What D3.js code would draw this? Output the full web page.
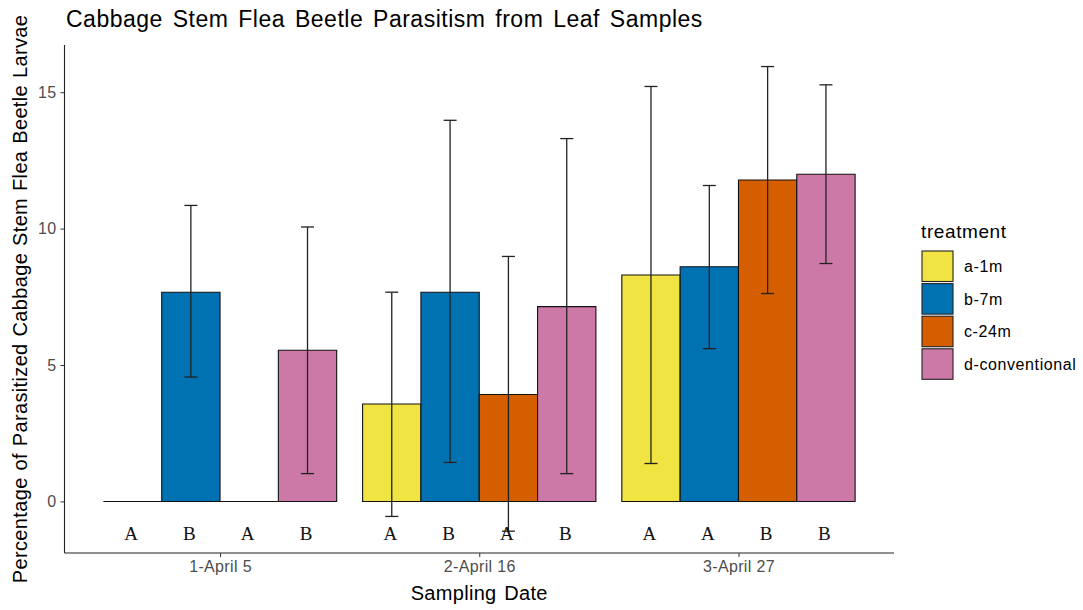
<!DOCTYPE html>
<html>
<head>
<meta charset="utf-8">
<script src="https://cdn.jsdelivr.net/npm/d3@7"></script>
<style>
html,body{margin:0;padding:0;background:#fff;}
svg{display:block;}
text{font-family:"Liberation Sans",Arial,sans-serif;}
</style>
</head>
<body>
<svg id="chart" width="1083" height="610"></svg>
<script>
const dates = ["1-April 5", "2-April 16", "3-April 27"];
const treatments = ["a-1m", "b-7m", "c-24m", "d-conventional"];
const colors = ["#F0E442", "#0072B2", "#D55E00", "#CC79A7"];
// mean per treatment, one value per date
const meanA = [0, 3.57, 8.30];
const meanB = [7.67, 7.67, 8.60];
const meanC = [0, 3.92, 11.78];
const meanD = [5.54, 7.14, 11.99];
const upperA = [null, 7.67, 15.21];
const upperB = [10.85, 13.97, 11.58];
const upperC = [null, 8.98, 15.94];
const upperD = [10.06, 13.30, 15.27];
const lowerA = [null, -0.55, 1.39];
const lowerB = [4.56, 1.43, 5.60];
const lowerC = [null, -1.09, 7.62];
const lowerD = [1.02, 1.02, 8.72];
const lettersA = ["A", "A", "A"];
const lettersB = ["B", "B", "A"];
const lettersC = ["A", "A", "B"];
const lettersD = ["B", "B", "B"];
const yTicks = [0, 5, 10, 15];

const means = [meanA, meanB, meanC, meanD];
const uppers = [upperA, upperB, upperC, upperD];
const lowers = [lowerA, lowerB, lowerC, lowerD];
const letters = [lettersA, lettersB, lettersC, lettersD];

const rows = [];
dates.forEach((d, di) => {
  treatments.forEach((t, ti) => {
    rows.push({date: d, trt: t, ti, mean: means[ti][di], up: uppers[ti][di], lo: lowers[ti][di], letter: letters[ti][di]});
  });
});

const svg = d3.select("#chart");
const L = 64.5, R = 894, T = 45, B = 553;

const x = d3.scalePoint().domain(dates).range([L, R]).padding(0.6);
const step = x.step();
const xs = d3.scaleBand().domain(treatments).range([-0.45 * step, 0.45 * step]).padding(0);
const y = d3.scaleLinear().domain([-1.89, 16.73]).range([B, T]);

// bars
svg.append("g").selectAll("path").data(rows).join("path")
  .attr("d", r => {
    const x0 = x(r.date) + xs(r.trt), x1 = x0 + xs.bandwidth();
    const y0 = y(0), y1 = y(r.mean);
    return `M${x0},${y0}H${x1}V${y1}H${x0}Z`;
  })
  .attr("fill", r => colors[r.ti])
  .attr("stroke", "#111")
  .attr("stroke-width", 1.1);

// error bars
const eb = rows.filter(r => r.up !== null);
const cap = 6.5;
const eg = svg.append("g").attr("stroke", "#222").attr("stroke-width", 1.3);
eb.forEach(r => {
  const cx = x(r.date) + xs(r.trt) + xs.bandwidth() / 2;
  eg.append("line").attr("x1", cx).attr("x2", cx).attr("y1", y(r.up)).attr("y2", y(r.lo));
  eg.append("line").attr("x1", cx - cap).attr("x2", cx + cap).attr("y1", y(r.up)).attr("y2", y(r.up));
  eg.append("line").attr("x1", cx - cap).attr("x2", cx + cap).attr("y1", y(r.lo)).attr("y2", y(r.lo));
});

// letters
svg.append("g").selectAll("text").data(rows).join("text")
  .attr("x", r => x(r.date) + xs(r.trt) + xs.bandwidth() / 2 - 1.5)
  .attr("y", 540)
  .attr("text-anchor", "middle")
  .style("font-family", "'Liberation Serif','DejaVu Serif',serif")
  .style("font-size", "19px")
  .attr("fill", "#111")
  .text(r => r.letter);

// axes
const tickStyle = sel => sel.attr("fill", "#4D4D4D").style("font-size", "16px")
  .style("letter-spacing", "0.35px")
  .style("font-family", "'Liberation Sans',Arial,sans-serif");
const yAxis = d3.axisLeft(y).tickValues(yTicks).tickSize(4).tickPadding(4).tickFormat(d3.format("d"));
const gy = svg.append("g").attr("transform", `translate(${L},0)`).call(yAxis);
gy.select(".domain").attr("d", `M0,${T}V${B}`).attr("stroke", "#222").attr("stroke-width", 1.1);
gy.selectAll(".tick line").attr("stroke", "#333");
gy.selectAll(".tick text").call(tickStyle);

const xAxis = d3.axisBottom(x).tickSize(4).tickPadding(4);
const gx = svg.append("g").attr("transform", `translate(0,${B})`).call(xAxis);
gx.select(".domain").attr("d", `M${L},0H${R}`).attr("stroke", "#222").attr("stroke-width", 1.1);
gx.selectAll(".tick line").attr("stroke", "#333");
gx.selectAll(".tick text").call(tickStyle);

// titles
svg.append("text").attr("x", 66).attr("y", 27).style("font-size", "23px").attr("fill", "#000")
  .style("letter-spacing", "0.5px").style("word-spacing", "3px")
  .text("Cabbage Stem Flea Beetle Parasitism from Leaf Samples");
svg.append("text").attr("x", (L + R) / 2).attr("y", 600).attr("text-anchor", "middle")
  .style("font-size", "20px").style("letter-spacing", "0.3px").style("word-spacing", "2px")
  .attr("fill", "#000").text("Sampling Date");
svg.append("text").attr("transform", `translate(27,${(T + B) / 2}) rotate(-90)`).attr("text-anchor", "middle")
  .style("font-size", "20px").style("letter-spacing", "0.35px").style("word-spacing", "1px")
  .attr("fill", "#000")
  .text("Percentage of Parasitized Cabbage Stem Flea Beetle Larvae");

// legend
const lg = svg.append("g").attr("transform", "translate(922,0)");
lg.append("text").attr("x", -1).attr("y", 238).style("font-size", "19px").style("letter-spacing", "0.6px")
  .attr("fill", "#000").text("treatment");
treatments.forEach((t, i) => {
  const ky = 251 + i * 32.6;
  lg.append("rect").attr("x", 0).attr("y", ky).attr("width", 31).attr("height", 30.5)
    .attr("fill", colors[i]).attr("stroke", "#222").attr("stroke-width", 1.1);
  lg.append("text").attr("x", 42).attr("y", ky + 15.5).attr("dy", "0.35em")
    .style("font-size", "16px").style("letter-spacing", "0.6px")
    .attr("fill", "#000").text(t);
});
</script>
</body>
</html>
